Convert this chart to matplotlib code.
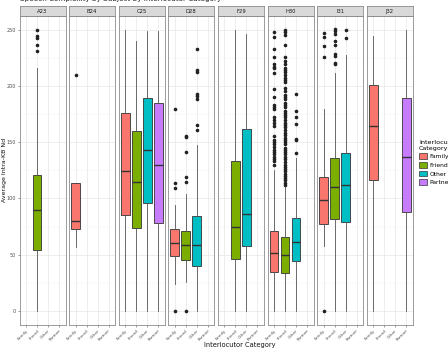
import matplotlib
matplotlib.use("Agg")
import matplotlib.pyplot as plt
from matplotlib.patches import Patch

panels = ["A23", "B24", "C25", "D28", "F29", "H30", "I31", "J32"]
categories = ["Family", "Friend", "Other", "Partner"]
colors = {"Family": "#F8766D", "Friend": "#7CAE00", "Other": "#00BFC4", "Partner": "#C77CFF"}

# stats per panel: category -> (whislo, q1, med, q3, whishi, fliers)
A23 = {"Friend": (0, 54, 90, 121, 216, [249.5, 244, 242.5, 236, 231])}
B24 = {"Family": (57, 72.7, 79.5, 113.5, 113.5, [210])}
C25 = {
    "Family": (0, 85.4, 124, 176, 250, []),
    "Friend": (0, 74, 115, 160, 240, []),
    "Other": (0, 95.5, 143, 189.5, 249, []),
    "Partner": (0, 78.3, 130, 184.7, 249, []),
}
D28 = {
    "Family": (23.7, 48.5, 60.3, 72.7, 94, [0, 108.8, 113.7, 179]),
    "Friend": (26, 45, 58.5, 71, 104, [0, 115, 119, 141.6, 154.6, 155.5]),
    "Other": (0, 39.6, 58.5, 84, 147, [161, 165, 188.5, 191, 193, 212, 214.5, 232.5]),
}
F29 = {
    "Friend": (0, 46, 74.7, 133.2, 249.4, []),
    "Other": (0, 57.4, 86, 161.3, 245.8, []),
}
H30 = {
    "Family": (0, 34.3, 51.7, 71.2, 125,
               [248, 243, 233, 226, 219, 217, 216, 211, 197, 190, 183, 181, 179, 172,
                170, 167, 164, 155, 152, 150, 148, 146, 143, 141, 139, 137, 135, 133, 130]),
    "Friend": (0, 34, 49.6, 65.3, 111,
               [250, 248, 245, 236, 226, 222, 219, 216, 214, 212, 210, 207, 205, 203, 198,
                195, 192, 190, 188, 185, 183, 181, 178, 176, 174, 172, 170, 167, 165, 163,
                161, 158, 156, 154, 152, 150, 148, 145, 143, 141, 139, 137, 135, 132, 130,
                128, 126, 124, 122, 120, 118, 116, 114, 112]),
    "Other": (0, 44.3, 61.4, 82.4, 136, [140, 151.6, 152.5, 165.8, 172.6, 178, 193]),
}
I31 = {
    "Family": (58, 77, 99, 119, 179, [0, 225.8, 235.8, 243.5, 247]),
    "Friend": (0, 81.6, 110, 136.3, 211, [219, 220, 226.6, 228.6, 236.7, 239.6, 246.2, 248.5, 250.6]),
    "Other": (0, 78.6, 112, 140, 227.5, [242.6, 249.4]),
}
J32 = {
    "Family": (0, 116.7, 164.3, 201, 244.7, []),
    "Partner": (0, 87.5, 136.5, 188.8, 249.4, []),
}
panel_data = [A23, B24, C25, D28, F29, H30, I31, J32]

title = "Speech Complexity by Subject by Interlocutor Category"
ylabel = "Average Intra-KB Nd"
xlabel = "Interlocutor Category"

W, H = 448, 348
fig = plt.figure(figsize=(W / 100, H / 100), dpi=100)

x0, pitch, pw = 19.5, 49.6, 46.0
ptop, pbot = 15.5, 325.0
strip_h = 9.8

grid_major = "#e6e6e6"
grid_minor = "#f3f3f3"
border = "#8c8c8c"

for i, (name, data) in enumerate(zip(panels, panel_data)):
    left = x0 + i * pitch
    ax = fig.add_axes([left / W, 1 - pbot / H, pw / W, (pbot - ptop) / H])
    ax.set_xlim(0.4, 4.6)
    ax.set_ylim(-12.5, 262.5)
    for yv in [0, 50, 100, 150, 200, 250]:
        ax.axhline(yv, color=grid_major, lw=0.5, zorder=0)
    for yv in [25, 75, 125, 175, 225]:
        ax.axhline(yv, color=grid_minor, lw=0.35, zorder=0)
    for xv in range(1, 5):
        ax.axvline(xv, color=grid_major, lw=0.5, zorder=0)
    stats, pos, cols = [], [], []
    for j, cat in enumerate(categories):
        if cat in data:
            lo, q1, med, q3, hi, fl = data[cat]
            stats.append(dict(whislo=lo, q1=q1, med=med, q3=q3, whishi=hi, fliers=fl))
            pos.append(j + 1)
            cols.append(colors[cat])
    if stats:
        bp = ax.bxp(stats, positions=pos, widths=0.8, patch_artist=True, showcaps=False,
                    boxprops=dict(edgecolor="#333333", linewidth=0.6),
                    whiskerprops=dict(color="#555555", linewidth=0.6),
                    medianprops=dict(color="#333333", linewidth=1.0),
                    flierprops=dict(marker="o", markerfacecolor="#222222",
                                    markeredgecolor="#222222", markersize=1.6, linestyle="none"))
        for patch, c in zip(bp["boxes"], cols):
            patch.set_facecolor(c)
    for s in ax.spines.values():
        s.set_color(border)
        s.set_linewidth(0.6)
    ax.set_xticks(range(1, 5))
    ax.set_xticklabels(categories, rotation=45, ha="right", rotation_mode="anchor",
                       fontsize=3.0, color="#4d4d4d")
    ax.tick_params(axis="x", length=1.5, width=0.4, color="#4d4d4d", pad=1)
    ax.set_yticks([0, 50, 100, 150, 200, 250])
    if i == 0:
        ax.set_yticklabels(["0", "50", "100", "150", "200", "250"], fontsize=3.5, color="#4d4d4d")
        ax.tick_params(axis="y", length=1.5, width=0.4, color="#4d4d4d", pad=1)
    else:
        ax.tick_params(axis="y", length=0, labelleft=False)
    # strip
    sax = fig.add_axes([left / W, 1 - ptop / H, pw / W, strip_h / H])
    sax.set_facecolor("#d9d9d9")
    sax.set_xticks([])
    sax.set_yticks([])
    for s in sax.spines.values():
        s.set_color(border)
        s.set_linewidth(0.6)
    sax.text(0.5, 0.45, name, ha="center", va="center", fontsize=3.8, color="#1a1a1a",
             transform=sax.transAxes)

fig.text(20 / W, 1 + 0.5 / H, title, ha="left", va="center", fontsize=5.2, color="#222222")
fig.text(5 / W, 1 - 170 / H, ylabel, rotation=90, ha="center", va="center", fontsize=4.5,
         color="#111111")
fig.text(240 / W, 1 - 345 / H, xlabel, ha="center", va="center", fontsize=4.8, color="#111111")

handles = [Patch(facecolor=colors[c], edgecolor="#333333", linewidth=0.5, label=c)
           for c in categories]
leg = fig.legend(handles=handles, title="Interlocutor\nCategory", loc="upper left",
                 bbox_to_anchor=(419 / W, 1 - 140 / H), frameon=False, fontsize=4.3,
                 title_fontsize=4.6, handlelength=1.4, handleheight=1.1, handletextpad=0.4,
                 labelspacing=0.45, borderaxespad=0, borderpad=0)
leg._legend_box.align = "left"

fig.savefig("out.png", dpi=100)
